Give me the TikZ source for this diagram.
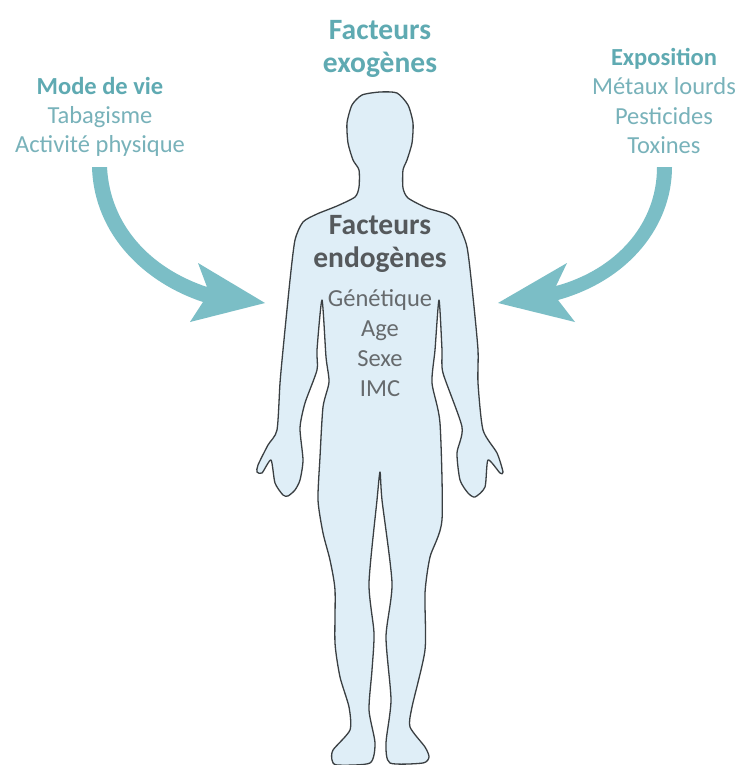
\documentclass[tikz,border=0pt]{standalone}
\usepackage{fontspec}
\setmainfont{Carlito}
\definecolor{tealbold}{HTML}{5FAAB2}
\definecolor{tealtext}{HTML}{78B2BA}
\definecolor{arrowteal}{HTML}{7BBEC6}
\definecolor{bodyfill}{HTML}{DFEEF7}
\definecolor{bodyline}{HTML}{3A3F42}
\definecolor{darktext}{HTML}{55595C}
\definecolor{midtext}{HTML}{666A6D}
\tikzset{
 big/.style={font=\fontsize{29.5}{33}\selectfont\bfseries,align=center,inner sep=0pt},
 headtxt/.style={font=\fontsize{24.5}{29.3}\selectfont,text=tealtext,align=center,inner sep=0pt},
 bodytxt/.style={font=\fontsize{24.5}{30}\selectfont,text=midtext,align=center,inner sep=0pt},
 blockarrow/.style={fill=arrowteal,draw=none},
}
\begin{document}
\begin{tikzpicture}[x=1pt,y=-1pt]
\useasboundingbox (0,0) rectangle (747,765);
\fill[white] (0,0) rectangle (747,765);
% body
\draw[fill=bodyfill,draw=bodyline,line width=1.3pt,line join=round]
 plot[smooth cycle,tension=0.4] coordinates {
 (380,92)(397,93)(408,105)(413,123)(412,143)(407,160)(403,170)(403,188)(408,198)(427,208)(447,214)(457,222)(467,247)(473,297)(478,350)(478,383)(483,430)(497,453)(503,472)(500,473)(488,460)(485,487)(475,497)(468,493)(460,480)(457,453)(462,427)(443,373)(442,350)(439,300)(435,350)(432,383)(440,423)(442,520)(430,557)(425,593)(425,650)(412,707)(410,727)(425,747)(429,757)(423,763)(390,763)(386,743)(391,700)(386,637)(392,583)(382,500)(380,472)(377,500)(369,583)(374,633)(372,670)(369,710)(375,743)(370,763)(337,765)(332,760)(333,750)(350,730)(349,707)(340,677)(335,643)(335,590)(330,560)(323,533)(318,500)(320,457)(323,407)(329,382)(326,357)(322,300)(317,350)(317,370)(305,403)(300,428)(303,460)(300,480)(295,490)(288,496)(283,495)(275,483)(271,460)(262,473)(257,472)(258,465)(268,445)(277,430)(280,383)(283,350)(290,280)(295,240)(303,222)(317,214)(337,206)(355,197)(359,187)(359,170)(353,160)(348,143)(347,123)(352,105)(362,95)};
% left arrow
\fill[blockarrow] (92,167) .. controls (94,235) and (145,283) .. (203,302)
 -- (190,322) -- (265,303) -- (198,263) -- (207,287)
 .. controls (150,268) and (110,225) .. (107,167) -- cycle;
% right arrow
\fill[blockarrow] (672,167) .. controls (672,225) and (630,280) .. (558,300)
 -- (575,322) -- (498,303) -- (567,263) -- (556,286)
 .. controls (615,270) and (657,225) .. (657,167) -- cycle;
% texts
\node[big,text=tealbold] (exo) at (380,49) {Facteurs\\exogènes};
\node[big,text=darktext] (endo) at (380,244) {Facteurs\\endogènes};
\node[bodytxt] (endolist) at (380,343) {Génétique\\Age\\Sexe\\IMC};
\node[headtxt] (vie) at (100,117) {\textbf{\textcolor{tealbold}{Mode de vie}}\\Tabagisme\\Activité physique};
\node[headtxt] (expo) at (664,101) {\textbf{\textcolor{tealbold}{Exposition}}\\Métaux lourds\\Pesticides\\Toxines};
\end{tikzpicture}
\end{document}
